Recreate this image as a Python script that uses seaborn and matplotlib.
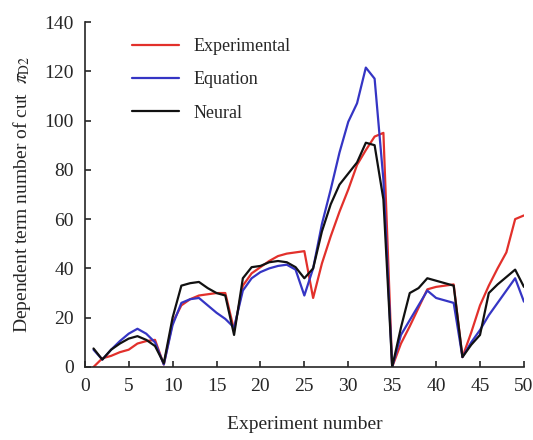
import numpy as np
import pandas as pd
import matplotlib
matplotlib.use("Agg")
import matplotlib.pyplot as plt
import seaborn as sns

# experiment numbers 1..50
experiment = list(range(1, 51))

experimental = [0, 3.5, 4.5, 6, 7, 9.5, 10.5, 11, 1,
                18, 25, 27.5, 29, 29.5, 30, 30, 15,
                33, 38, 40.5, 43, 45, 46, 46.5, 47, 28,
                42, 53, 63, 72, 82, 88, 93.5, 95, 0,
                9.5, 16.5, 24, 31.5, 32.5, 33, 33.5, 4,
                14, 25, 33, 40, 46.5, 60, 61.5]

equation = [7, 3, 7, 10.5, 13.5, 15.5, 13.5, 10, 1,
            17, 26, 27.5, 28, 25, 22, 19.5, 16,
            31, 36, 38.5, 40, 41, 41.5, 39.5, 29, 40,
            58, 72, 87, 99.5, 107, 121.5, 117, 76, 0,
            13, 19, 25, 31, 28, 27, 26, 4,
            10, 15, 21, 26, 31, 36, 26.5]

neural = [7.5, 3, 7, 9.5, 11.5, 12.5, 11, 8.5, 1.5,
          20, 33, 34, 34.5, 32, 30, 29, 13,
          36, 40.5, 41, 42.5, 43, 42.5, 40.5, 36, 40,
          55, 66, 74, 78.5, 83, 91, 90, 68, 0,
          16, 30, 32, 36, 35, 34, 33, 4,
          9, 13, 30, 33.5, 36.5, 39.5, 32.5]

series_names = ["Experimental", "Equation", "Neural"]
colors = ["#e2302b", "#3535c4", "#111111"]

df = pd.DataFrame({
    "Experiment number": experiment * 3,
    "value": experimental + equation + neural,
    "series": np.repeat(series_names, len(experiment)),
})

sns.set_style("ticks")
plt.rcParams["font.family"] = ["Liberation Serif", "DejaVu Serif"]
plt.rcParams["mathtext.fontset"] = "stix"

fig = plt.figure(figsize=(5.33, 4.4), dpi=100)
ax = fig.add_axes([0.159, 0.166, 0.824, 0.784])

sns.lineplot(data=df, x="Experiment number", y="value", hue="series",
             hue_order=series_names, palette=colors, linewidth=1.6, ax=ax)

ax.set_xlim(0, 50)
ax.set_ylim(0, 140)
ax.set_xticks(range(0, 51, 5))
ax.set_yticks(range(0, 141, 20))
ax.tick_params(direction="in", length=4, width=1.2, labelsize=14, pad=8)
for s in ["top", "right"]:
    ax.spines[s].set_visible(False)
for s in ["left", "bottom"]:
    ax.spines[s].set_linewidth(1.2)

ax.set_xlabel("Experiment number", fontsize=14, labelpad=15)
ax.set_ylabel(r"Dependent term number of cut  $\pi_{\mathrm{D2}}$", fontsize=14, labelpad=8)

ax.legend(loc="upper left", bbox_to_anchor=(0.07, 1.0), frameon=False,
          fontsize=13, handlelength=2.6, labelspacing=0.9)

fig.savefig("out.png", dpi=100)
